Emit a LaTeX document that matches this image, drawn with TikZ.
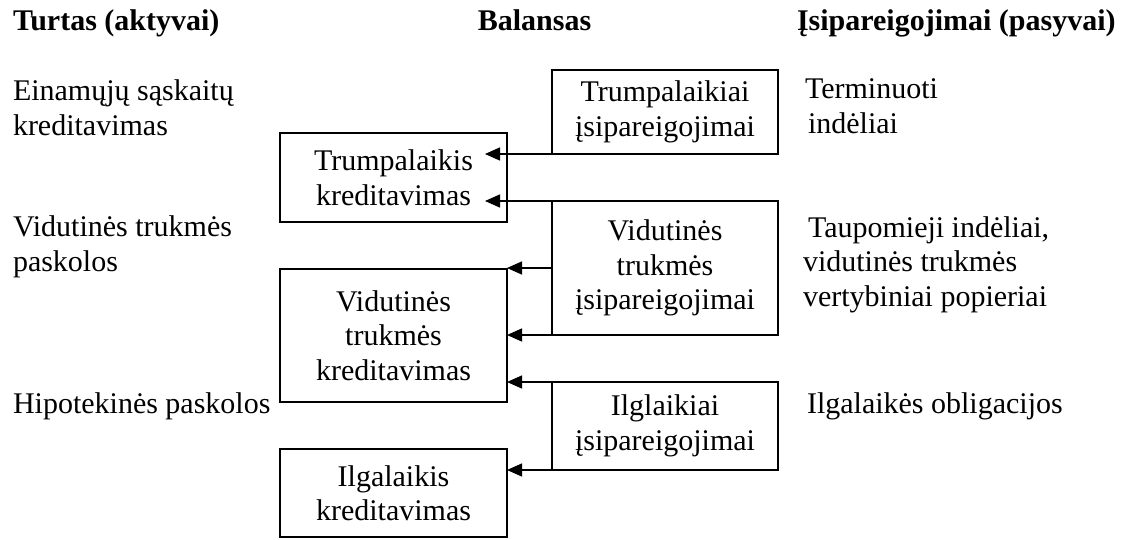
\documentclass[tikz,border=0pt]{standalone}
\usepackage{fontspec}
\setmainfont{Liberation Serif}
\usetikzlibrary{arrows.meta}
\begin{document}
\begin{tikzpicture}[x=1pt,y=-1pt,
  every node/.style={font=\fontsize{30}{34.5}\selectfont, inner sep=0pt, outer sep=0pt},
  hdr/.style={font=\fontsize{30}{34.5}\selectfont\bfseries, anchor=base west},
  lbl/.style={align=left, anchor=base west},
  box/.style={draw, line width=1.4pt, align=center, minimum width=226pt},
  arr/.style={line width=1.4pt, -{Triangle[length=15pt,width=13pt]}}
]
\useasboundingbox (0,0) rectangle (1129,539);

% headers
\node[hdr] (h1) at (13,30) {Turtas (aktyvai)};
\node[hdr, anchor=base] (h2) at (534.5,30) {Balansas};
\node[hdr] (h3) at (797,30) {Įsipareigojimai (pasyvai)};

% left column (position = baseline of last line)
\node[lbl] (l1) at (13,135) {Einamųjų sąskaitų\\kreditavimas};
\node[lbl] (l2) at (13,271) {Vidutinės trukmės\\paskolos};
\node[lbl] (l3) at (13,413) {Hipotekinės paskolos};

% right column
\node[lbl] (r1) at (805,133) {Terminuoti\\\hspace{3pt}indėliai};
\node[lbl] (r2) at (803,306) {\hspace{5pt}Taupomieji indėliai,\\vidutinės trukmės\\vertybiniai popieriai};
\node[lbl] (r3) at (807,413) {Ilgalaikės obligacijos};

% boxes
\node[box, minimum height=84pt] (A) at (665,112) {Trumpalaikiai\\įsipareigojimai};
\node[box, minimum width=227pt, minimum height=89pt] (B) at (393.5,177.5) {Trumpalaikis\\kreditavimas};
\node[box, minimum height=134pt] (C) at (665,268) {Vidutinės\\trukmės\\įsipareigojimai};
\node[box, minimum width=227pt, minimum height=133pt] (D) at (393.5,335.5) {Vidutinės\\trukmės\\kreditavimas};
\node[box, minimum height=88pt] (E) at (665,426) {Ilglaikiai\\įsipareigojimai};
\node[box, minimum width=227pt, minimum height=88pt] (F) at (393.5,493) {Ilgalaikis\\kreditavimas};

% arrows
\coordinate (tip) at (485,0);
\draw[arr] (A.south west) -- (A.south west -| tip);
\draw[arr] (C.north west) -- (C.north west -| tip);
\draw[arr] (C.west) -- (C.west -| D.east);
\draw[arr] (C.south west) -- (C.south west -| D.east);
\draw[arr] (E.north west) -- (E.north west -| D.east);
\draw[arr] (E.south west) -- (E.south west -| F.east);
\end{tikzpicture}
\end{document}
